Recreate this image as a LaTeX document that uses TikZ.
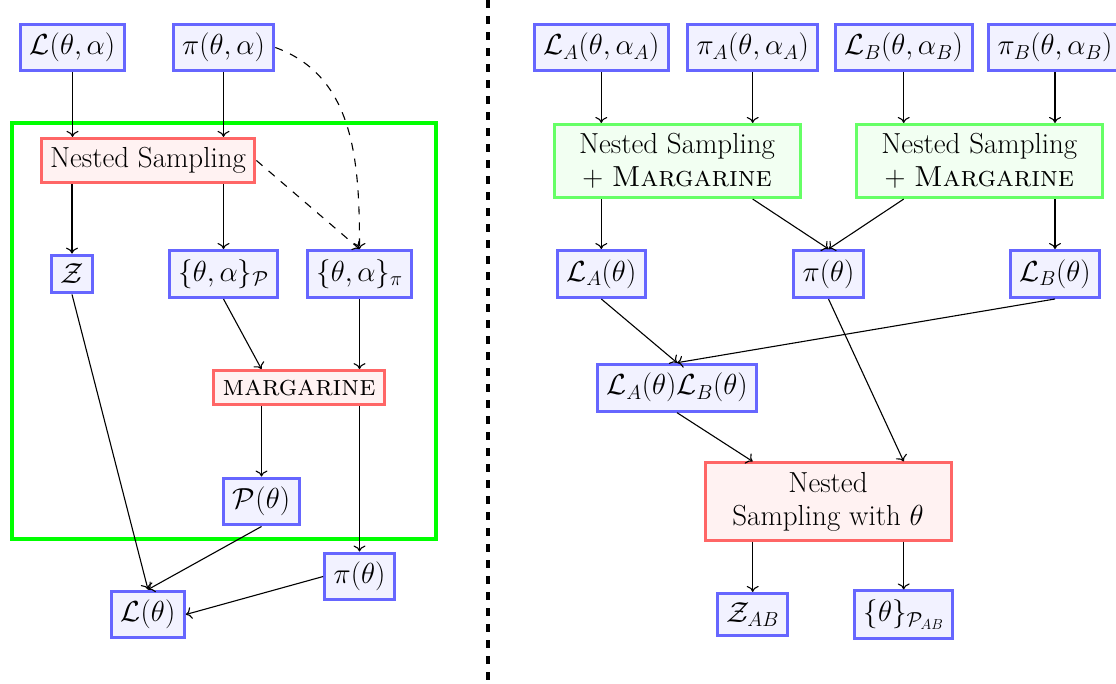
\documentclass[tikz,border=0pt]{standalone}
\usepackage{fix-cm}
\usetikzlibrary{arrows.meta}
\newcommand{\bigfnt}{\fontsize{29}{33}\selectfont}
\tikzset{
  basebox/.style={line width=3pt, inner sep=9pt, font=\bigfnt, align=center},
  bnode/.style={basebox, draw=blue!60, fill=blue!5},
  rnode/.style={basebox, draw=red!60, fill=red!5},
  gnode/.style={basebox, draw=green!60, fill=green!5},
  arr/.style={-{Computer Modern Rightarrow[length=6pt,width=12pt]}, line width=1.1pt},
  dasharr/.style={arr, dash pattern=on 8pt off 8pt},
  frame/.style={draw=green, line width=4.5pt},
  divider/.style={line width=4pt, dash pattern=on 7.5pt off 8.5pt}
}
\begin{document}
\begin{tikzpicture}[x=1pt,y=-1pt]
\useasboundingbox (0,0) rectangle (1116,683);

% ---------- left panel ----------
\draw[frame] (12,123) rectangle (436,539);

\node[bnode] (L1)  at (72.5,47.5)  {$\mathcal{L}(\theta,\alpha)$};
\node[bnode] (P1)  at (223.5,47.5) {$\pi(\theta,\alpha)$};
\node[rnode] (NS)  at (148,160.5)  {Nested Sampling};
\node[bnode] (Z)   at (72,274)     {$\mathcal{Z}$};
\node[bnode] (SP)  at (223.5,274)  {$\{\theta,\alpha\}_{\mathcal{P}}$};
\node[bnode] (Spi) at (359.5,274)  {$\{\theta,\alpha\}_{\pi}$};
\node[rnode] (M)   at (299,387.5)  {\textsc{margarine}};
\node[bnode] (Pt)  at (261.5,501.5) {$\mathcal{P}(\theta)$};
\node[bnode] (pit) at (359.5,576.5) {$\pi(\theta)$};
\node[bnode] (Lt)  at (148,614.5)  {$\mathcal{L}(\theta)$};

\draw[arr] (L1.south) -- (NS.north -| L1);
\draw[arr] (P1.south) -- (NS.north -| P1);
\draw[arr] (NS.south -| Z) -- (Z.north);
\draw[arr] (NS.south -| SP) -- (SP.north);
\draw[dasharr] (NS.east) -- (Spi.north);
\draw[dasharr] (P1.east) to[out=-20,in=90] (Spi.north);
\draw[arr] (SP.south) -- (M.north -| Pt);
\draw[arr] (Spi.south) -- (M.north -| Spi);
\draw[arr] (M.south -| Pt) -- (Pt.north);
\draw[arr] (M.south -| pit) -- (pit.north);
\draw[arr] (Z.south) -- (Lt.north);
\draw[arr] (Pt.south) -- (Lt.north);
\draw[arr] (pit.west) -- (Lt.east);

% ---------- divider ----------
\coordinate (d1) at (488,0);
\coordinate (d2) at (488,683);
\draw[divider] (d1) -- (d2);

% ---------- right panel ----------
\node[bnode] (LA) at (601.3,47.5) {$\mathcal{L}_A(\theta,\alpha_A)$};
\node[bnode] (PA) at (752.7,47.5) {$\pi_A(\theta,\alpha_A)$};
\node[bnode] (LB) at (903.7,47.5) {$\mathcal{L}_B(\theta,\alpha_B)$};
\node[bnode] (PB) at (1055,47.5)  {$\pi_B(\theta,\alpha_B)$};
\node[gnode, minimum width=246pt, minimum height=70pt] (NA) at (677,161)   {Nested Sampling\\+ \textsc{Margarine}};
\node[gnode, minimum width=246pt, minimum height=70pt] (NB) at (979.3,161) {Nested Sampling\\+ \textsc{Margarine}};
\node[bnode] (LAt) at (601.3,274) {$\mathcal{L}_A(\theta)$};
\node[bnode] (pt)  at (828.5,274) {$\pi(\theta)$};
\node[bnode] (LBt) at (1055,274)  {$\mathcal{L}_B(\theta)$};
\node[bnode] (LAB) at (677,387.7) {$\mathcal{L}_A(\theta)\mathcal{L}_B(\theta)$};
\node[rnode, minimum width=246pt, minimum height=77pt] (NT) at (828,501.5) {Nested\\Sampling with $\theta$};
\node[bnode] (ZAB) at (752.7,614.5) {$\mathcal{Z}_{AB}$};
\node[bnode] (TP)  at (903.7,614.5) {$\{\theta\}_{\mathcal{P}_{AB}}$};

\draw[arr] (LA.south) -- (NA.north -| LA);
\draw[arr] (PA.south) -- (NA.north -| PA);
\draw[arr] (LB.south) -- (NB.north -| LB);
\draw[arr] (PB.south) -- (NB.north -| PB);
\draw[arr] (NA.south -| LAt) -- (LAt.north);
\draw[arr] (NA.south -| PA) -- (pt.north);
\draw[arr] (NB.south -| LB) -- (pt.north);
\draw[arr] (NB.south -| LBt) -- (LBt.north);
\draw[arr] (LAt.south) -- (LAB.north);
\draw[arr] (LBt.south) -- (LAB.north);
\draw[arr] (pt.south) -- (NT.north -| TP);
\draw[arr] (LAB.south) -- (NT.north -| ZAB);
\draw[arr] (NT.south -| ZAB) -- (ZAB.north);
\draw[arr] (NT.south -| TP) -- (TP.north);
\end{tikzpicture}
\end{document}
